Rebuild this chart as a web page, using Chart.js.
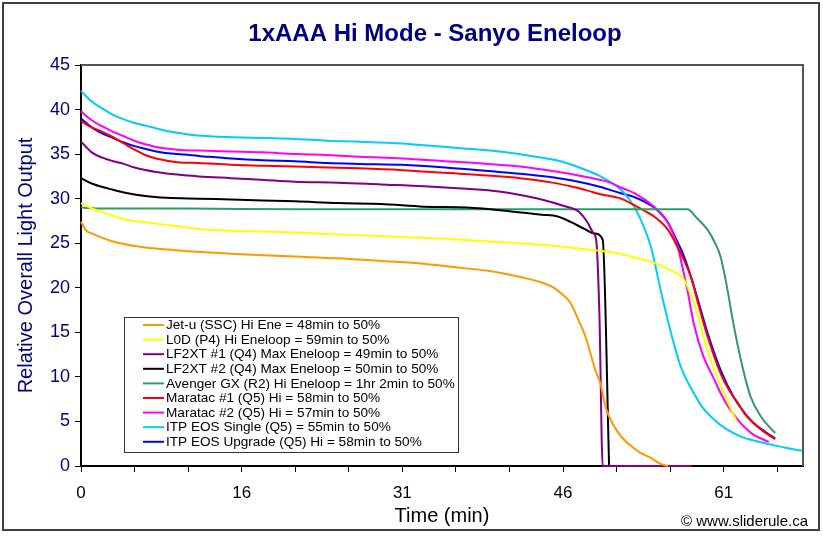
<!DOCTYPE html>
<html>
<head>
<meta charset="utf-8">
<script src="https://cdn.jsdelivr.net/npm/chart.js@4.4.1/dist/chart.umd.min.js"></script>
<style>
  html, body { margin: 0; padding: 0; background: #ffffff; }
  #wrap { width: 823px; height: 536px; }
</style>
</head>
<body>
<div id="wrap"><canvas id="c" width="823" height="536"></canvas></div>
<script>
// ---- Data (x = sample index, y = relative overall light output) ----
const chartTitle = '1xAAA Hi Mode - Sanyo Eneloop';
const xTickPositions = [0, 15, 30, 45, 60];
const xTickLabels = ['0', '16', '31', '46', '61'];
const yTickValues = [0, 5, 10, 15, 20, 25, 30, 35, 40, 45];

const seriesNames = [
  'Jet-u (SSC) Hi Ene = 48min to 50%',
  'L0D (P4) Hi Eneloop = 59min to 50%',
  'LF2XT #1 (Q4) Max Eneloop = 49min to 50%',
  'LF2XT #2 (Q4) Max Eneloop = 50min to 50%',
  'Avenger GX (R2) Hi Eneloop = 1hr 2min to 50%',
  'Maratac #1 (Q5) Hi = 58min to 50%',
  'Maratac #2 (Q5) Hi = 57min to 50%',
  'ITP EOS Single (Q5) = 55min to 50%',
  'ITP EOS Upgrade (Q5) Hi = 58min to 50%'
];
const seriesColors = ['#FF9900', '#FFFF00', '#800080', '#000000', '#339966', '#FF0000', '#FF00FF', '#00CCFF', '#0000FF'];

const jetU = [[0,27.4],[0.5,26.4],[1,26.1],[2,25.6],[3,25.2],[5,24.7],[7,24.4],[10,24.1],[13,23.9],[16,23.7],[20,23.5],[24,23.3],[28,23.0],[32,22.7],[35,22.3],[38,21.9],[41,21.2],[43,20.6],[44,20.1],[45,19.2],[45.7,18.3],[46.5,16.2],[47.1,14.5],[48,10.8],[48.5,9.2],[49,6.5],[49.7,4.6],[50.5,3.2],[51.3,2.3],[52.2,1.5],[53.2,0.9],[54,0.3],[54.8,0]];
const l0d = [[0,29.5],[1,28.9],[2,28.5],[3,28.1],[4,27.7],[5,27.5],[7,27.2],[9,26.9],[11,26.6],[14,26.4],[18,26.3],[22,26.1],[26,25.9],[30,25.7],[34,25.5],[38,25.2],[42,24.9],[45,24.6],[48,24.2],[50,23.9],[52,23.3],[53.5,22.8],[55,22.0],[56.3,20.9],[57,19.0],[57.5,17.3],[58.1,14.5],[59.1,10.8],[60.3,7.4],[61.2,5.0]];
const lf2xt1 = [[0,36.4],[1,35.2],[2,34.6],[3,34.2],[4,33.9],[5,33.5],[7,33.0],[9,32.7],[11,32.5],[14,32.3],[17,32.1],[20,31.9],[24,31.8],[28,31.6],[32,31.4],[36,31.1],[39,30.8],[41,30.4],[43,29.9],[45,29.2],[46.5,28.5],[47.3,27.3],[47.8,26.2],[48.1,25.3],[48.4,16.8],[48.7,0],[57,0]];
const lf2xt2 = [[0,32.3],[1,31.7],[2,31.3],[3,31.0],[4,30.7],[6,30.3],[8,30.1],[11,30.0],[14,29.9],[17,29.8],[20,29.7],[24,29.5],[28,29.4],[32,29.1],[36,29.0],[40,28.6],[43,28.2],[44.5,28.0],[45.7,27.4],[47,26.6],[47.9,26.1],[48.7,25.4],[49.3,0]];
const avenger = [[0,29.0],[2,28.9],[10,28.9],[20,28.8],[30,28.8],[40,28.8],[50,28.8],[56.6,28.8],[57.5,27.8],[58.5,26.5],[59.2,25.0],[59.7,23.5],[60.3,20.1],[60.9,16.0],[61.6,11.9],[62.5,7.8],[63.5,5.5],[64.8,3.7]];
const maratac1 = [[0,38.7],[1,38.0],[2,37.5],[3,36.9],[4,36.2],[5,35.5],[6,34.9],[7,34.5],[9,34.1],[11,34.0],[14,33.8],[17,33.7],[20,33.6],[23,33.5],[26,33.4],[30,33.2],[34,32.9],[38,32.6],[41,32.3],[44,31.8],[46,31.3],[47.3,30.9],[48.5,30.5],[50.4,30.0],[51.6,29.3],[52.5,28.7],[53.5,28.0],[54.8,26.5],[55.5,25.0],[56.3,23.1],[57,21.0],[57.6,18.3],[58.5,14.5],[59.7,10.4],[60.5,8.5],[61.3,7.1],[62,5.8],[62.8,4.8],[63.8,3.8],[64.8,3.0]];
const maratac2 = [[0,39.8],[1,38.8],[2,38.1],[3,37.5],[4,37.0],[5,36.5],[6,36.1],[7,35.8],[9,35.5],[11,35.4],[14,35.3],[17,35.2],[20,35.0],[23,34.9],[26,34.7],[30,34.5],[34,34.2],[38,33.9],[41,33.6],[44,33.1],[46,32.7],[48.5,32.1],[49.4,31.8],[50.5,31.2],[51.7,30.6],[53.5,29.1],[54.4,28.0],[55,26.8],[55.7,24.6],[56.2,22.0],[56.6,19.8],[57.2,16.0],[58.1,12.3],[59,10.0],[59.7,8.2],[60.5,6.5],[61.3,5.2],[62,4.3],[62.8,3.5],[64.2,2.7]];
const itpSingle = [[0,42.1],[1,40.9],[2,40.1],[3,39.4],[4,38.9],[5,38.5],[6,38.2],[7,37.9],[8,37.6],[9,37.4],[10,37.2],[12,37.0],[14,36.9],[17,36.8],[20,36.7],[23,36.5],[26,36.4],[30,36.2],[33,35.9],[36,35.6],[39,35.3],[42,34.8],[44.8,34.2],[46.5,33.5],[48.5,32.5],[49.5,31.8],[50.4,31.0],[51,30.2],[52,28.3],[53.2,24.6],[54.1,19.8],[55,15.3],[56,11.1],[57.2,8.2],[58,6.6],[59.1,5.2],[60.3,4.1],[61.6,3.3],[63,2.8],[64.4,2.4],[66,2.0],[67.3,1.7]];
const itpUpgrade = [[0,39.0],[1,38.0],[2,37.3],[3,36.8],[4,36.3],[5,35.9],[6,35.6],[7,35.3],[9,35.0],[11,34.8],[14,34.5],[17,34.3],[20,34.2],[23,34.0],[26,33.9],[30,33.8],[34,33.5],[38,33.1],[41,32.8],[44,32.4],[46,32.0],[48.5,31.3],[50.4,30.6],[51.6,30.2],[53.5,29.0],[54.8,27.3],[55.5,25.6],[56.3,23.5],[57,21.0],[57.6,18.6],[58.5,14.9],[59.7,10.8],[60.9,7.8],[61.8,6.2],[62.8,4.8],[63.8,3.9],[64.8,3.1]];

const seriesData = [jetU, l0d, lf2xt1, lf2xt2, avenger, maratac1, maratac2, itpSingle, itpUpgrade];

// ---- Chart ----
const FONT = "'Liberation Sans', Arial, sans-serif";

const datasets = seriesData.map((pts, i) => ({
  label: seriesNames[i],
  data: pts.map(p => ({ x: p[0], y: p[1] })),
  borderColor: seriesColors[i],
  backgroundColor: seriesColors[i],
  borderWidth: 2,
  pointRadius: 0,
  fill: false,
  cubicInterpolationMode: 'monotone',
  clip: 4
}));

const decorPlugin = {
  id: 'decor',
  beforeDatasetsDraw(chart) {
    const { ctx, chartArea: a } = chart;
    ctx.save();
    ctx.strokeStyle = '#555555';
    ctx.lineWidth = 2;
    ctx.beginPath();
    ctx.moveTo(a.left, a.top);
    ctx.lineTo(a.right, a.top);
    ctx.lineTo(a.right, a.bottom);
    ctx.stroke();
    ctx.restore();
  },
  afterDraw(chart) {
    const { ctx } = chart;
    ctx.save();
    // outer frame
    ctx.strokeStyle = '#404040';
    ctx.lineWidth = 2;
    ctx.strokeRect(3, 3, 816, 527);
    // title
    ctx.fillStyle = '#000080';
    ctx.font = 'bold 24px ' + FONT;
    ctx.textAlign = 'center';
    ctx.textBaseline = 'middle';
    ctx.fillText(chartTitle, 435, 34);
    // copyright
    ctx.fillStyle = '#000000';
    ctx.font = '15px ' + FONT;
    ctx.textAlign = 'right';
    ctx.fillText('\u00A9 www.sliderule.ca', 808, 522);
    // legend
    const lx = 124, ly = 317, lw = 334, lh = 135;
    ctx.fillStyle = '#ffffff';
    ctx.fillRect(lx, ly, lw, lh);
    ctx.strokeStyle = '#333333';
    ctx.lineWidth = 1;
    ctx.strokeRect(lx + 0.5, ly + 0.5, lw, lh);
    ctx.font = '13.6px ' + FONT;
    ctx.textAlign = 'left';
    chart.data.datasets.forEach((ds, i) => {
      const y = 325 + i * 14.6;
      ctx.strokeStyle = ds.borderColor;
      ctx.lineWidth = 2;
      ctx.beginPath();
      ctx.moveTo(143, y);
      ctx.lineTo(164, y);
      ctx.stroke();
      ctx.fillStyle = '#000000';
      ctx.fillText(ds.label, 166, y + 0.5);
    });
    ctx.restore();
  }
};

new Chart(document.getElementById('c'), {
  type: 'line',
  data: { datasets },
  options: {
    responsive: false,
    animation: false,
    layout: { padding: { left: 0, top: 65, right: 20, bottom: 0 } },
    plugins: {
      legend: { display: false },
      title: { display: false },
      tooltip: { enabled: false }
    },
    scales: {
      x: {
        type: 'linear',
        min: 0,
        max: 67.4,
        afterFit(s) { s.height = 70; },
        afterBuildTicks(s) {
          const t = [];
          for (let v = 0; v <= 65; v += 5) t.push({ value: v });
          s.ticks = t;
        },
        ticks: {
          autoSkip: false,
          maxRotation: 0,
          padding: 11,
          color: '#000000',
          font: { family: FONT, size: 17 },
          callback(v) {
            const k = xTickPositions.indexOf(v);
            return k >= 0 ? xTickLabels[k] : '';
          }
        },
        grid: { drawOnChartArea: false, drawTicks: true, tickLength: 6, color: '#000000', lineWidth: 1 },
        border: { display: true, color: '#000000', width: 2 },
        title: {
          display: true,
          text: 'Time (min)',
          color: '#000000',
          font: { family: FONT, size: 20 },
          padding: { top: 0, bottom: 8 }
        }
      },
      y: {
        min: 0,
        max: 45,
        afterFit(s) { s.width = 81; },
        afterBuildTicks(s) { s.ticks = yTickValues.map(v => ({ value: v })); },
        ticks: {
          padding: 5,
          color: '#000080',
          font: { family: FONT, size: 18 }
        },
        grid: { drawOnChartArea: false, drawTicks: true, tickLength: 6, color: '#000000', lineWidth: 1 },
        border: { display: true, color: '#000000', width: 2 },
        title: {
          display: true,
          text: 'Relative Overall Light Output',
          color: '#000080',
          font: { family: FONT, size: 20 },
          padding: { top: 14, bottom: 0 }
        }
      }
    }
  },
  plugins: [decorPlugin]
});
</script>
</body>
</html>
